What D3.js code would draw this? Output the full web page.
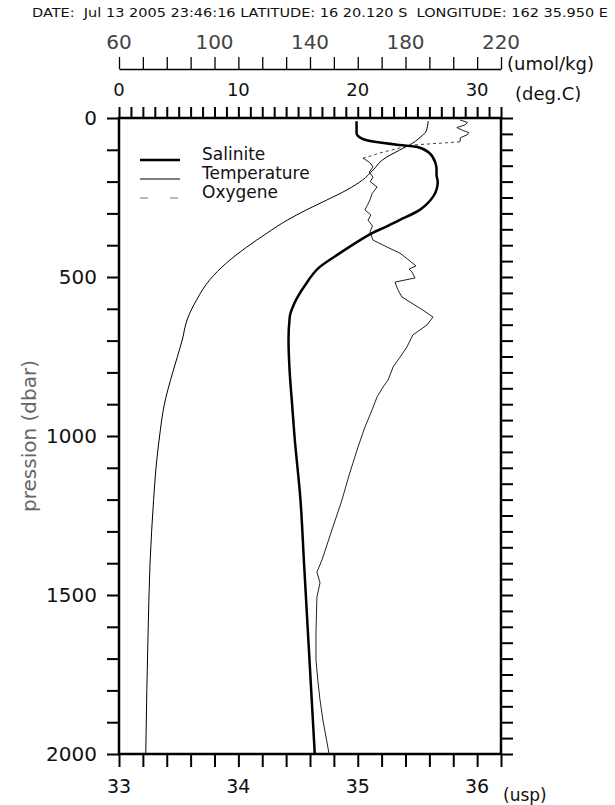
<!DOCTYPE html>
<html>
<head>
<meta charset="utf-8">
<script src="https://cdn.jsdelivr.net/npm/d3@7"></script>
<style>
  body { margin: 0; background: #fff; }
  svg { display: block; font-family: "DejaVu Sans", sans-serif; }
</style>
</head>
<body>
<div id="chart"></div>
<script>
// profile values
var salP = [10, 47, 66, 75, 85, 91, 110, 141, 160, 179, 201, 225, 248, 270, 289, 321, 343, 362, 384, 425, 469, 525, 582, 626, 698, 800, 900, 1000, 1200, 1400, 1600, 1800, 2000]
var salV = [34.99, 34.99, 35.04, 35.14, 35.35, 35.50, 35.60, 35.65, 35.66, 35.66, 35.67, 35.66, 35.63, 35.58, 35.52, 35.35, 35.23, 35.12, 35.02, 34.85, 34.68, 34.56, 34.47, 34.43, 34.42, 34.43, 34.45, 34.47, 34.52, 34.55, 34.58, 34.61, 34.64]

var tempP = [10, 44, 55, 79, 101, 131, 163, 195, 226, 258, 289, 321, 362, 406, 456, 509, 572, 635, 698, 800, 900, 1000, 1100, 1200, 1400, 1600, 1800, 2000]
var tempV = [25.9, 25.7, 25.4, 24.6, 23.5, 22.1, 21.3, 20.4, 19.1, 17.4, 15.7, 14.1, 12.4, 10.7, 9.0, 7.6, 6.5, 5.7, 5.3, 4.5, 3.8, 3.4, 3.1, 2.9, 2.6, 2.45, 2.33, 2.24]

var oxyP = [6, 14, 22, 30, 38, 46, 53, 62, 75, 85, 94, 110, 123, 126, 140, 154, 170, 186, 200, 217, 238, 258, 275, 289, 305, 321, 340, 358, 384, 406, 425, 450, 465, 475, 484, 503, 516, 540, 563, 579, 604, 626, 651, 682, 720, 752, 783, 824, 846, 877, 918, 972, 1035, 1120, 1201, 1286, 1390, 1428, 1462, 1506, 1560, 1619, 1704, 1770, 1830, 1893, 2000]
var oxyV = [202.8, 206, 204.9, 201.5, 203.7, 206.5, 205.8, 203, 202.8, 183.1, 177.7, 169.3, 163.9, 162.2, 165, 166.4, 164.8, 166.4, 165.2, 168.1, 166, 165.1, 164, 163.0, 165.5, 164.3, 166.2, 165.1, 166.4, 172.3, 177.7, 181.9, 184.4, 181.5, 182.7, 184.0, 175.6, 176.8, 178.5, 181.9, 187.3, 191.5, 189.0, 183.1, 180.6, 177.7, 174.8, 172.7, 170.6, 168.1, 166.0, 163.0, 160.1, 156.5, 153.4, 149.6, 145.0, 142.9, 144.2, 142.9, 142.7, 142.5, 142.5, 143.3, 144.2, 145.4, 148.0]

var presLabels = [0, 500, 1000, 1500, 2000]
var salLabels = [33, 34, 35, 36]
var tempLabels = [0, 10, 20, 30]
var oxyLabels = [60, 100, 140, 180, 220]
var legendNames = ["Salinite", "Temperature", "Oxygene"]
var header = "DATE:  Jul 13 2005 23:46:16 LATITUDE: 16 20.120 S  LONGITUDE: 162 35.950 E"

const w = 615, h = 805
const boxL = 119, boxR = 501, boxT = 118, boxB = 754

var svg = d3.select("#chart").append("svg")
    .attr("width", w)
    .attr("height", h)

var y = d3.scaleLinear().domain([0, 2000]).range([boxT, boxB])
var xS = d3.scaleLinear().domain([33, 36.2]).range([boxL, boxR])
var xT = d3.scaleLinear().domain([0, 32]).range([boxL, boxR])
var xO = d3.scaleLinear().domain([60, 220]).range([boxL, boxR])

function zip(ps, vs) { return ps.map((p, i) => ({ p: p, v: vs[i] })) }

// header line
svg.append("text")
    .attr("x", 32).attr("y", 17)
    .attr("textLength", 576).attr("lengthAdjust", "spacingAndGlyphs")
    .style("white-space", "pre")
    .attr("font-size", 13)
    .attr("fill", "#111")
    .text(header)

// axes
function styleAxis(g, width) {
    g.select(".domain").remove()
    g.selectAll(".tick line").attr("stroke", "#000").attr("stroke-width", width)
}

svg.append("g").attr("transform", `translate(${boxL},0)`)
    .call(d3.axisLeft(y).tickValues(d3.range(0, 2001, 100)).tickSize(12).tickFormat(""))
    .call(g => styleAxis(g, 2))

svg.append("g").attr("transform", `translate(${boxR},0)`)
    .call(d3.axisRight(y).tickValues(d3.range(0, 2001, 50)).tickSize(12).tickFormat(""))
    .call(g => styleAxis(g, 2))

svg.append("g").attr("transform", `translate(0,${boxB})`)
    .call(d3.axisBottom(xS).tickValues(d3.range(0, 17).map(i => 33 + i * 0.2)).tickSize(13).tickFormat(""))
    .call(g => styleAxis(g, 2))

svg.append("g").attr("transform", `translate(0,${boxT})`)
    .call(d3.axisTop(xT).tickValues(d3.range(0, 33)).tickSize(11).tickFormat(""))
    .call(g => styleAxis(g, 2))

var oxyAxis = svg.append("g").attr("transform", "translate(0,69)")
    .call(d3.axisTop(xO).tickValues(d3.range(60, 221, 10)).tickSize(12).tickSizeOuter(0).tickFormat(""))
oxyAxis.select(".domain").attr("stroke", "#000").attr("stroke-width", 1.3)
oxyAxis.selectAll(".tick line").attr("stroke", "#000").attr("stroke-width", 1.3)

// frame
svg.append("rect")
    .attr("x", boxL).attr("y", boxT)
    .attr("width", boxR - boxL).attr("height", boxB - boxT)
    .attr("fill", "none").attr("stroke", "#000").attr("stroke-width", 2.5)

// tick labels
svg.selectAll(".plab").data(presLabels).enter().append("text")
    .attr("x", 97).attr("y", d => y(d) + 7)
    .attr("text-anchor", "end").attr("font-size", 20).attr("fill", "#111")
    .text(d => d)

svg.selectAll(".slab").data(salLabels).enter().append("text")
    .attr("x", d => xS(d)).attr("y", 793)
    .attr("text-anchor", "middle").attr("font-size", 19).attr("fill", "#111")
    .text(d => d)

svg.selectAll(".tlab").data(tempLabels).enter().append("text")
    .attr("x", d => xT(d)).attr("y", 96)
    .attr("text-anchor", "middle").attr("font-size", 18).attr("fill", "#111")
    .text(d => d)

svg.selectAll(".olab").data(oxyLabels).enter().append("text")
    .attr("x", d => xO(d)).attr("y", 49)
    .attr("text-anchor", "middle").attr("font-size", 20).attr("fill", "#444")
    .text(d => d)

svg.append("text").attr("x", 507).attr("y", 70).attr("font-size", 18).attr("fill", "#111").text("(umol/kg)")
svg.append("text").attr("x", 515).attr("y", 100).attr("font-size", 18).attr("fill", "#111").text("(deg.C)")
svg.append("text").attr("x", 503).attr("y", 801).attr("font-size", 17).attr("fill", "#111").text("(usp)")

svg.append("text")
    .attr("transform", "translate(36,436) rotate(-90)")
    .attr("text-anchor", "middle").attr("font-size", 20).attr("fill", "#666")
    .text("pression (dbar)")

// profiles
var salLine = d3.line().x(d => xS(d.v)).y(d => y(d.p)).curve(d3.curveMonotoneY)
var tempLine = d3.line().x(d => xT(d.v)).y(d => y(d.p)).curve(d3.curveMonotoneY)
var oxyLine = d3.line().x(d => xO(d.v)).y(d => y(d.p))

var oxy = zip(oxyP, oxyV)

svg.append("path").datum(zip(tempP, tempV))
    .attr("d", tempLine).attr("fill", "none").attr("stroke", "#000").attr("stroke-width", 1)

svg.append("path").datum(oxy.slice(0, 9))
    .attr("d", oxyLine).attr("fill", "none").attr("stroke", "#222").attr("stroke-width", 1)
svg.append("path").datum(oxy.slice(8, 14))
    .attr("d", oxyLine).attr("fill", "none").attr("stroke", "#444").attr("stroke-width", 1)
    .attr("stroke-dasharray", "3,3")
svg.append("path").datum(oxy.slice(13))
    .attr("d", oxyLine).attr("fill", "none").attr("stroke", "#222").attr("stroke-width", 1)

svg.append("path").datum(zip(salP, salV))
    .attr("d", salLine).attr("fill", "none").attr("stroke", "#000").attr("stroke-width", 2.5)
    .attr("stroke-linejoin", "round")

// legend
var legend = svg.append("g")
var legendY = [160, 179, 198]
legend.selectAll("line").data(legendNames).enter().append("line")
    .attr("x1", 140).attr("x2", 180)
    .attr("y1", (d, i) => legendY[i]).attr("y2", (d, i) => legendY[i])
    .attr("stroke", (d, i) => i == 2 ? "#777" : "#000")
    .attr("stroke-width", (d, i) => i == 0 ? 2.5 : 1.2)
    .attr("stroke-dasharray", (d, i) => i == 2 ? "8,22" : null)
legend.selectAll("text").data(legendNames).enter().append("text")
    .attr("x", 202).attr("y", (d, i) => legendY[i])
    .attr("font-size", 17).attr("fill", "#111")
    .text(d => d)
</script>
</body>
</html>
